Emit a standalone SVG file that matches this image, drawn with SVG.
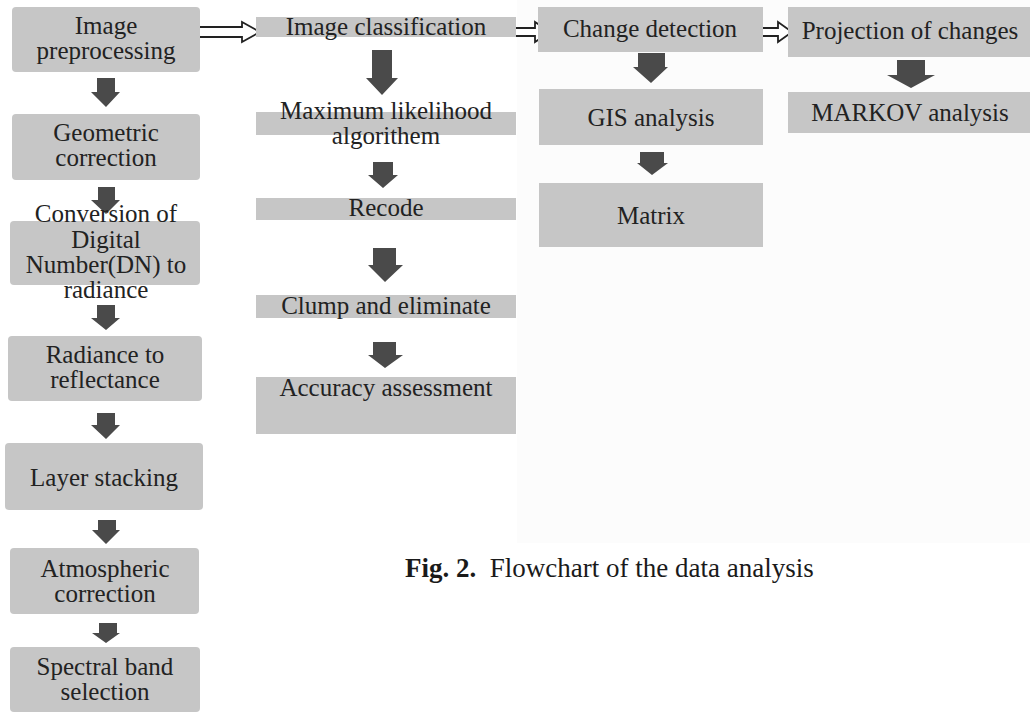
<svg xmlns="http://www.w3.org/2000/svg" width="1030" height="712" viewBox="0 0 1030 712">
<defs>
<style>
.box{fill:#c6c6c6;}
.rbox{fill:#c6c6c6;}
.t{font-family:"Liberation Serif","Times New Roman",serif;font-size:25px;fill:#222;text-anchor:middle;}
.dn{fill:#4a4a4a;}
.ho{fill:#ffffff;stroke:#222;stroke-width:1.8;stroke-linejoin:miter;}
.cap{font-family:"Liberation Serif","Times New Roman",serif;font-size:27px;fill:#1a1a1a;}
</style>
</defs>
<rect width="1030" height="712" fill="#ffffff"/>
<rect x="517" y="0" width="513" height="543" fill="#fcfcfc"/>

<g id="connectors">
  <path class="ho" d="M195,27 H242 V22 L260,32 L242,42 V37 H195 Z"/>
  <path class="ho" d="M497,28 H535 V22 L550,32 L535,42 V36 H497 Z"/>
  <path class="ho" d="M745,28 H778 V22 L792,32 L778,42 V36 H745 Z"/>
  <!-- left column -->
  <path class="dn" d="M97,78 H115 V92 H120 L106,107 L91,92 H97 Z"/>
  <path class="dn" d="M98,187 H115 V200 H120 L106,214 L91,200 H98 Z"/>
  <path class="dn" d="M97,305 H115 V318 H120 L106,330 L91,318 H97 Z"/>
  <path class="dn" d="M97,413 H115 V425 H120 L106,439 L91,425 H97 Z"/>
  <path class="dn" d="M98,520 H116 V530 H120 L106,544 L92,530 H98 Z"/>
  <path class="dn" d="M99,623 H117 V633 H120 L106,643 L92,633 H99 Z"/>
  <!-- middle column -->
  <path class="dn" d="M372,50 H392 V78 H398 L382,95 L366,78 H372 Z"/>
  <path class="dn" d="M373,162 H393 V175 H398 L383,188 L368,175 H373 Z"/>
  <path class="dn" d="M373,248 H396 V265 H403 L385,282 L368,265 H373 Z"/>
  <path class="dn" d="M373,342 H396 V355 H403 L385,368 L368,355 H373 Z"/>
  <!-- right columns -->
  <path class="dn" d="M638,53 H665 V67 H668 L651,83 L633,67 H638 Z"/>
  <path class="dn" d="M640,152 H664 V163 H668 L652,175 L637,163 H640 Z"/>
  <path class="dn" d="M897,60 H925 V75 H935 L911,88 L887,75 H897 Z"/>
</g>

<g id="n-preproc"><rect class="box" x="12" y="7" width="188" height="65" rx="4"/><text class="t" x="106" y="34">Image</text><text class="t" x="106" y="59">preprocessing</text></g>
<g id="n-geom"><rect class="box" x="12" y="114" width="188" height="66" rx="4"/><text class="t" x="106" y="141">Geometric</text><text class="t" x="106" y="166">correction</text></g>
<g id="n-dn"><rect class="box" x="10" y="221" width="190" height="64" rx="4"/><text class="t" x="106" y="222">Conversion of</text><text class="t" x="106" y="248">Digital</text><text class="t" x="106" y="273">Number(DN) to</text><text class="t" x="106" y="298">radiance</text></g>
<g id="n-refl"><rect class="box" x="8" y="336" width="194" height="65" rx="4"/><text class="t" x="105" y="363">Radiance to</text><text class="t" x="105" y="388">reflectance</text></g>
<g id="n-layer"><rect class="box" x="5" y="443" width="198" height="67" rx="4"/><text class="t" x="104" y="486">Layer stacking</text></g>
<g id="n-atmo"><rect class="box" x="10" y="548" width="189" height="66" rx="4"/><text class="t" x="105" y="577">Atmospheric</text><text class="t" x="105" y="602">correction</text></g>
<g id="n-spec"><rect class="box" x="10" y="647" width="190" height="65" rx="4"/><text class="t" x="105" y="675">Spectral band</text><text class="t" x="105" y="700">selection</text></g>

<g id="n-class"><rect class="rbox" x="256" y="17" width="260" height="20"/><text class="t" x="386" y="35">Image classification</text></g>
<g id="n-ml"><rect class="rbox" x="256" y="112" width="260" height="23"/><text class="t" x="386" y="119">Maximum likelihood</text><text class="t" x="386" y="144">algorithem</text></g>
<g id="n-recode"><rect class="rbox" x="256" y="198" width="260" height="22"/><text class="t" x="386" y="216">Recode</text></g>
<g id="n-clump"><rect class="rbox" x="256" y="295" width="260" height="23"/><text class="t" x="386" y="314">Clump and eliminate</text></g>
<g id="n-acc"><rect class="rbox" x="256" y="377" width="260" height="57"/><text class="t" x="386" y="396">Accuracy assessment</text></g>

<g id="n-change"><rect class="rbox" x="538" y="7" width="225" height="45"/><text class="t" x="650" y="37">Change detection</text></g>
<g id="n-gis"><rect class="rbox" x="539" y="89" width="224" height="56"/><text class="t" x="651" y="126">GIS analysis</text></g>
<g id="n-matrix"><rect class="rbox" x="539" y="183" width="224" height="64"/><text class="t" x="651" y="224">Matrix</text></g>
<g id="n-proj"><rect class="rbox" x="788" y="7" width="242" height="50"/><text class="t" x="910" y="39">Projection of changes</text></g>
<g id="n-markov"><rect class="rbox" x="788" y="92" width="242" height="41"/><text class="t" x="910" y="121">MARKOV analysis</text></g>

<text class="cap" x="405" y="577"><tspan font-weight="bold">Fig. 2.</tspan><tspan xml:space="preserve">  Flowchart of the data analysis</tspan></text>
</svg>
